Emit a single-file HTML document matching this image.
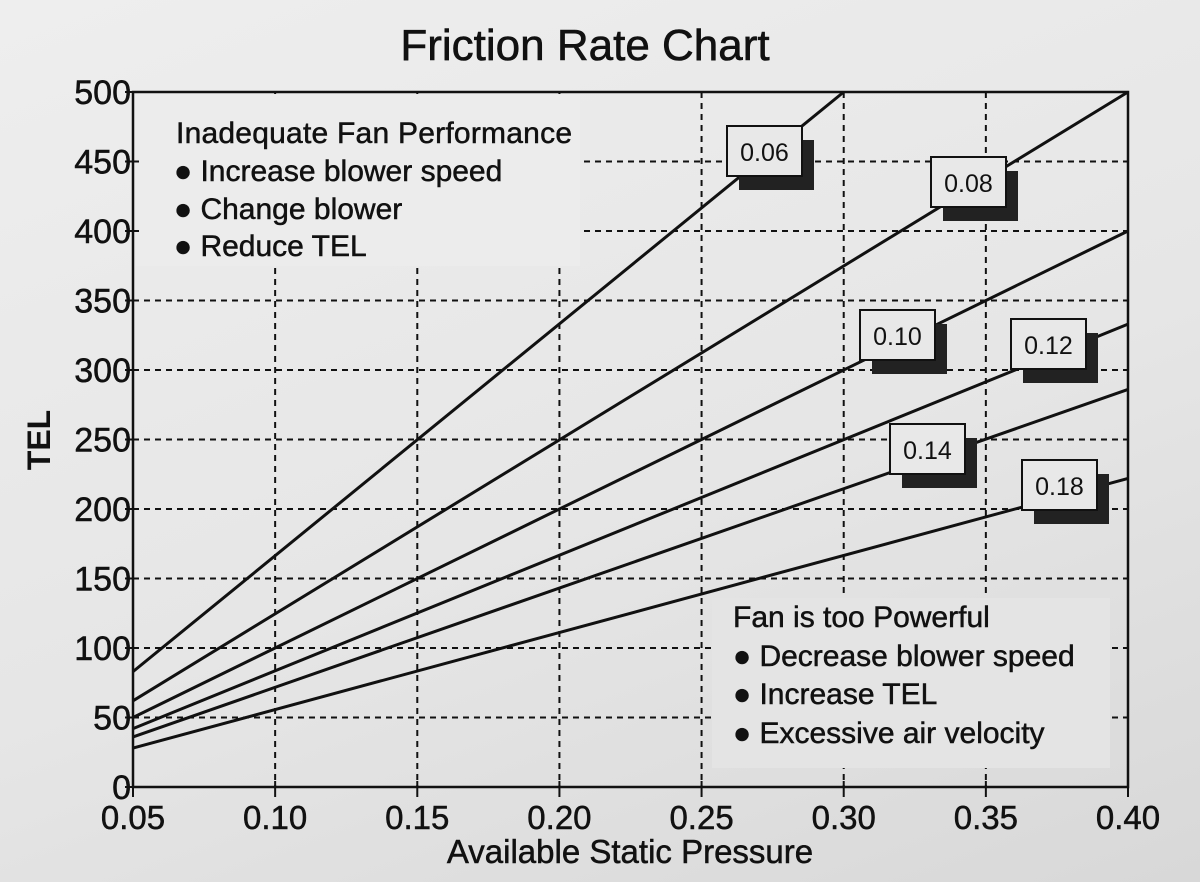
<!DOCTYPE html>
<html><head><meta charset="utf-8">
<style>
html,body{margin:0;padding:0;}
body{width:1200px;height:882px;overflow:hidden;background:linear-gradient(160deg,#eeeeee 0%,#e6e6e6 55%,#d8d8d8 100%);font-family:"Liberation Sans",Arial,sans-serif;}
svg{display:block}
</style></head>
<body>
<svg id="chart" width="1200" height="882" viewBox="0 0 1200 882" font-family="Liberation Sans, Arial, sans-serif" fill="#111">
<text x="585" y="60" font-size="44" text-anchor="middle" stroke="#111" stroke-width="0.6">Friction Rate Chart</text>
<g id="grid"></g>
<rect x="136" y="94" width="444" height="172" fill="#ececec"/>
<rect x="712" y="598" width="398" height="170" fill="#e4e4e4"/>
<g id="series"></g>
<g id="axes"></g>
<g id="labels"></g>
<g font-size="30" stroke="#111" stroke-width="0.5">
<text x="176" y="143" textLength="396">Inadequate Fan Performance</text>
<text x="174" y="181">● Increase blower speed</text>
<text x="174" y="219">● Change blower</text>
<text x="174" y="256">● Reduce TEL</text>
</g>
<g font-size="30" stroke="#111" stroke-width="0.5">
<text x="733" y="627">Fan is too Powerful</text>
<text x="733" y="666">● Decrease blower speed</text>
<text x="733" y="704">● Increase TEL</text>
<text x="733" y="743">● Excessive air velocity</text>
</g>
<text x="630" y="863" font-size="33" text-anchor="middle" stroke="#111" stroke-width="0.5">Available Static Pressure</text>
<text transform="translate(50,440) rotate(-90)" font-size="32" font-weight="bold" text-anchor="middle">TEL</text>
</svg>
<script>
const xTicks=[0.05,0.10,0.15,0.20,0.25,0.30,0.35,0.40];
const xTickLabels=["0.05","0.10","0.15","0.20","0.25","0.30","0.35","0.40"];
const yTicks=[0,50,100,150,200,250,300,350,400,450,500];
const seriesNames=["0.06","0.08","0.10","0.12","0.14","0.18"];
const seriesStartX=[0.05,0.05,0.05,0.05,0.05,0.05];
const seriesStartY=[83,62,50,42,36,28];
const seriesEndX=[0.30,0.40,0.40,0.40,0.40,0.40];
const seriesEndY=[500,500,400,333,286,222];
const labelBoxX=[727,931,860,1011,890,1022];
const labelBoxY=[126,157,310,319,424,460];

const L=133,R=1128,T=92,B=787;
const xs=v=>L+(v-0.05)/(0.40-0.05)*(R-L);
const ys=v=>B-(v/500)*(B-T);
const NS="http://www.w3.org/2000/svg";
function mk(tag,attrs,parent){const e=document.createElementNS(NS,tag);for(const k in attrs)e.setAttribute(k,attrs[k]);parent.appendChild(e);return e;}
const grid=document.getElementById('grid'),axes=document.getElementById('axes'),series=document.getElementById('series'),labels=document.getElementById('labels');
xTicks.forEach((t,i)=>{
  if(i>0&&i<xTicks.length-1){const g=mk('line',{x1:xs(t),x2:xs(t),y1:T,y2:B,stroke:'#111','stroke-width':2,'stroke-dasharray':'6,5'},grid);
  
  }
  const tk=mk('line',{x1:xs(t),x2:xs(t),y1:B-6,y2:B+10,stroke:'#111','stroke-width':2},axes);
  
  
  const tx=mk('text',{x:xs(t),y:B+42,'font-size':33,'text-anchor':'middle',stroke:'#111','stroke-width':0.5},axes);
  tx.textContent=xTickLabels[i];
  
  
});
yTicks.forEach(t=>{
  if(t>0&&t<500){const g=mk('line',{x1:L,x2:R,y1:ys(t),y2:ys(t),stroke:'#111','stroke-width':2,'stroke-dasharray':'6,5'},grid);
  
  }
  const tk=mk('line',{x1:L-8,x2:L+6,y1:ys(t),y2:ys(t),stroke:'#111','stroke-width':2},axes);
  
  
  const tx=mk('text',{x:L-2,y:ys(t)+12,'font-size':34,'text-anchor':'end',stroke:'#111','stroke-width':0.5},axes);
  tx.textContent=String(t);
  
  
});
const frame=mk('rect',{x:L,y:T,width:R-L,height:B-T,fill:'none',stroke:'#111','stroke-width':2.5},axes);


seriesNames.forEach((n,i)=>{
  const ln=mk('line',{x1:xs(seriesStartX[i]),y1:ys(seriesStartY[i]),x2:xs(seriesEndX[i]),y2:ys(seriesEndY[i]),stroke:'#111','stroke-width':3},series);
  
  
  const g=mk('g',{},labels);
  
  
  const bx=labelBoxX[i],by=labelBoxY[i];
  mk('rect',{x:bx+12,y:by+14,width:75,height:50,fill:'#222'},g);
  mk('rect',{x:bx,y:by,width:75,height:50,fill:'#e8e8e8',stroke:'#111','stroke-width':2},g);
  const t=mk('text',{x:bx+37.5,y:by+35,'font-size':25,'text-anchor':'middle'},g);
  t.textContent=n;
});
</script>
</body></html>
